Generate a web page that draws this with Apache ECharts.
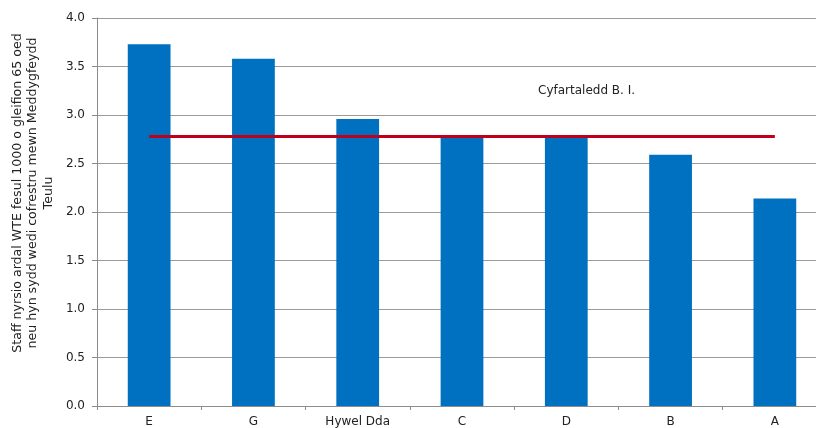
<!DOCTYPE html>
<html>
<head>
<meta charset="utf-8">
<style>
  html, body { margin: 0; padding: 0; background: #ffffff; overflow: hidden; }
  #chart { width: 827px; height: 428px; }
</style>
<script src="https://cdn.jsdelivr.net/npm/echarts@6/dist/echarts.min.js"></script>
</head>
<body>
<div id="chart"></div>
<script>
// Practice / locality names along the x axis
const categories = ['E', 'G', 'Hywel Dda', 'C', 'D', 'B', 'A'];
// District nursing WTE per 1000 patients aged 65+
const staffRates = [3.73, 3.58, 2.96, 2.78, 2.77, 2.59, 2.14];
// Health board average
const boardAverage = 2.78;
const averageLabel = 'Cyfartaledd B. I.';
const yTicks = { min: 0, max: 4, interval: 0.5 };
const yAxisTitle = 'Staff nyrsio ardal WTE fesul 1000 o gleifion 65 oed\nneu hyn sydd wedi cofrestru mewn Meddygfeydd\nTeulu';

const chart = echarts.init(document.getElementById('chart'), null, { renderer: 'canvas' });
const font = '"DejaVu Sans", Verdana, sans-serif';

chart.setOption({
  animation: false,
  backgroundColor: '#ffffff',
  grid: { left: 97, right: 0, top: 18, bottom: 22, containLabel: false },
  xAxis: {
    type: 'category',
    data: categories,
    axisLine: { lineStyle: { color: '#8c8c8c', width: 1 } },
    axisTick: { show: true, length: 4, lineStyle: { color: '#8c8c8c' } },
    axisLabel: { color: '#222', fontFamily: font, fontSize: 12, margin: 10 },
    splitLine: { show: false }
  },
  yAxis: {
    type: 'value',
    min: yTicks.min,
    max: yTicks.max,
    interval: yTicks.interval,
    axisLine: { show: true, lineStyle: { color: '#8c8c8c', width: 1 } },
    axisTick: { show: true, length: 5, lineStyle: { color: '#8c8c8c' } },
    axisLabel: {
      color: '#222', fontFamily: font, fontSize: 12, margin: 12,
      formatter: v => v.toFixed(1)
    },
    splitLine: { show: true, lineStyle: { color: '#9a9a9a', width: 1 } }
  },
  series: [{
    type: 'bar',
    data: staffRates,
    barWidth: '41%',
    itemStyle: { color: '#0070c0' },
    markLine: {
      silent: true,
      symbol: 'none',
      label: { show: false },
      lineStyle: { color: '#c0001a', width: 3, type: 'solid' },
      data: [[
        { coord: [categories[0], boardAverage] },
        { coord: [categories[categories.length - 1], boardAverage] }
      ]]
    }
  }],
  graphic: [
    {
      type: 'text',
      left: 538,
      top: 85,
      style: { text: averageLabel, font: '12px ' + font, fill: '#222' }
    },
    {
      type: 'text',
      x: 33,
      y: 193,
      rotation: Math.PI / 2,
      style: {
        text: yAxisTitle,
        font: '12.6px ' + font,
        fill: '#222',
        align: 'center',
        verticalAlign: 'middle',
        lineHeight: 15.5
      }
    }
  ]
});
</script>
</body>
</html>
